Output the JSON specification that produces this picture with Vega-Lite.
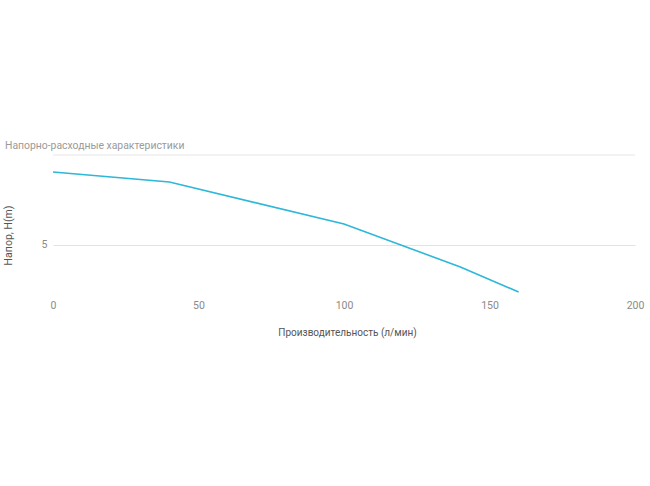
{
  "$schema": "https://vega.github.io/schema/vega-lite/v6.json",
  "autosize": "none",
  "width": 582,
  "height": 137,
  "padding": {"left": 53, "top": 155, "right": 15, "bottom": 194},
  "background": "white",
  "config": {
    "font": "Roboto",
    "view": {"stroke": null}
  },
  "title": {
    "text": "Напорно-расходные характеристики",
    "anchor": "start",
    "frame": "group",
    "dx": -48,
    "offset": 3,
    "fontSize": 10.4,
    "fontWeight": "normal",
    "color": "#9a9a9a"
  },
  "data": {
    "values": [
      {"q": 0, "h": 12.77},
      {"q": 40, "h": 11.7},
      {"q": 100, "h": 7.23},
      {"q": 140, "h": 2.66},
      {"q": 160, "h": 0}
    ]
  },
  "layer": [
    {
      "mark": {"type": "rule", "color": "#f2f2f2", "strokeWidth": 1},
      "encoding": {"y": {"datum": 14.57}}
    },
    {
      "mark": {"type": "line", "color": "#2db7d8", "strokeWidth": 1.6},
      "encoding": {
        "x": {
          "field": "q",
          "type": "quantitative",
          "scale": {"domain": [0, 200], "nice": false},
          "axis": {
            "title": "Производительность (л/мин)",
            "values": [0, 50, 100, 150, 200],
            "grid": false,
            "domain": false,
            "ticks": false,
            "labelFlush": false,
            "labelPadding": 8,
            "labelFontSize": 10.5,
            "labelColor": "#8a8a8a",
            "titleFontSize": 10,
            "titleFontWeight": "normal",
            "titleColor": "#555555",
            "titlePadding": 17,
            "titleX": 294
          }
        },
        "y": {
          "field": "h",
          "type": "quantitative",
          "scale": {"domain": [0, 14.57], "nice": false, "zero": false},
          "axis": {
            "title": "Напор, H(m)",
            "values": [5],
            "grid": true,
            "gridColor": "#e2e2e2",
            "domain": false,
            "ticks": false,
            "labelPadding": 6,
            "labelFontSize": 10.5,
            "labelColor": "#8a8a8a",
            "titleFontSize": 10.5,
            "titleFontWeight": "normal",
            "titleColor": "#555555",
            "titleX": -40,
            "titleY": 80
          }
        }
      }
    }
  ]
}
